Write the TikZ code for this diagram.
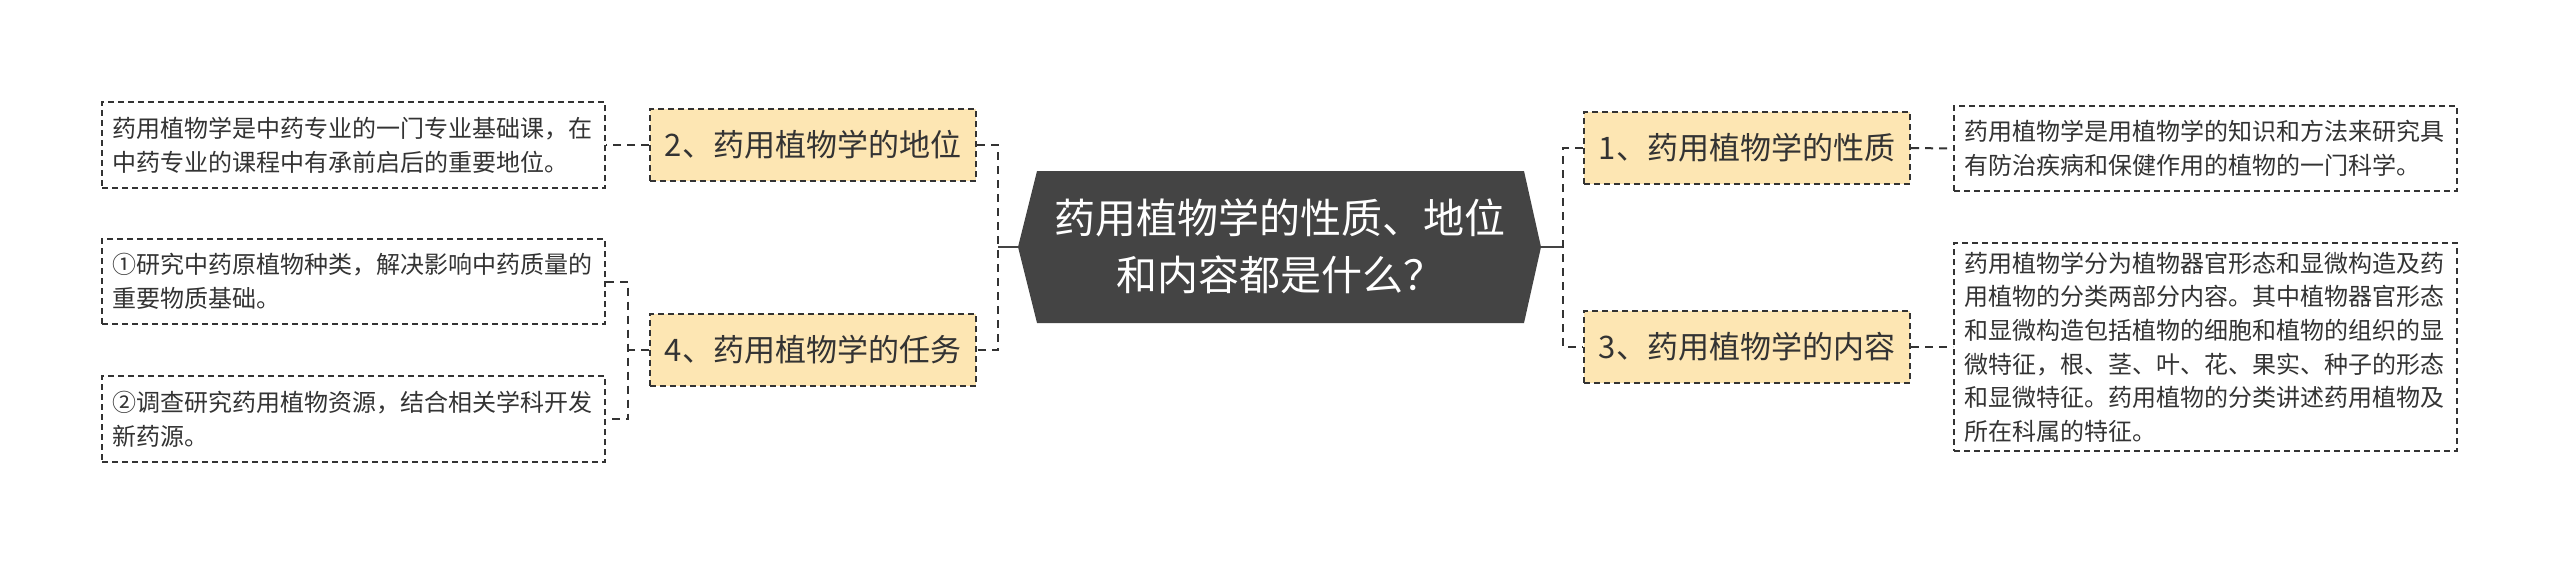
\documentclass[tikz,border=0pt]{standalone}
\usepackage{fontspec}
\setmainfont{Noto Sans CJK SC}
\definecolor{ink}{HTML}{333333}
\definecolor{topicgray}{HTML}{444444}
\definecolor{branchfill}{HTML}{FDE6B3}
\tikzset{
  leaf/.style={draw=ink, line width=1pt, dash pattern=on 3pt off 2pt, text=ink,
    align=left, text width=241pt, inner xsep=5.25pt, inner ysep=0pt,
    font=\fontsize{12pt}{16.8pt}\selectfont},
  branch/.style={draw=ink, line width=1pt, dash pattern=on 3pt off 2pt, fill=branchfill,
    text=ink, minimum width=163pt, minimum height=36pt, inner sep=0pt,
    font=\fontsize{15.5pt}{18pt}\selectfont},
  link/.style={draw=ink, line width=1pt, dash pattern=on 4pt off 3pt},
  stub/.style={draw=topicgray, line width=1.4pt},
}
\begin{document}
\begin{tikzpicture}[x=0.5pt,y=-0.5pt]
\fill[white] (0,0) rectangle (2560,564);
\useasboundingbox (0,0) rectangle (2560,564);

%Topic
\coordinate (tipL) at (1018,247);
\coordinate (tipR) at (1541,247);
\fill[topicgray] (tipL) -- (1037,171) -- (1524,171) -- (tipR) -- (1524,323) -- (1037,323) -- cycle;
\node (topic) at (1280,246) [align=center, text=white, font=\fontsize{20.5pt}{28.5pt}\selectfont]
  {药用植物学的性质、地位\\和内容都是什么？};

%Branches
\node (n2) at (813,145) [branch] {2、药用植物学的地位};
\node (n4) at (813,350) [branch] {4、药用植物学的任务};
\node (n1) at (1747,148) [branch] {1、药用植物学的性质};
\node (n3) at (1747,347) [branch] {3、药用植物学的内容};

%Leaves
\node (l1) at (353.5,145) [leaf, minimum height=43pt]
  {药用植物学是中药专业的一门专业基础课，在\\中药专业的课程中有承前启后的重要地位。};
\node (l2) at (353.5,281.5) [leaf, minimum height=42.5pt]
  {①研究中药原植物种类，解决影响中药质量的\\重要物质基础。};
\node (l3) at (353.5,419) [leaf, minimum height=43pt]
  {②调查研究药用植物资源，结合相关学科开发\\新药源。};
\node (r1) at (2205.5,148.5) [leaf, minimum height=42.5pt]
  {药用植物学是用植物学的知识和方法来研究具\\有防治疾病和保健作用的植物的一门科学。};
\node (r2) at (2205.5,347) [leaf, minimum height=104pt]
  {药用植物学分为植物器官形态和显微构造及药\\用植物的分类两部分内容。其中植物器官形态\\和显微构造包括植物的细胞和植物的组织的显\\微特征，根、茎、叶、花、果实、种子的形态\\和显微特征。药用植物的分类讲述药用植物及\\所在科属的特征。};

%Connectors
\coordinate (lbus) at (998,247);
\coordinate (rbus) at (1563,247);
\coordinate (lsub) at (628,350);
%Left
\draw[stub] (tipL) -- (lbus);
\draw[link] (n2.east) -| (lbus) |- (n4.east);
\draw[link] (n2.west) -- (l1.east);
\draw[link] (n4.west) -- (lsub);
\draw[link] (l2.east) -| (lsub) |- (l3.east);
%Right
\draw[stub] (tipR) -- (rbus);
\draw[link] (n1.west) -| (rbus) |- (n3.west);
\draw[link] (n1.east) -- (r1.west);
\draw[link] (n3.east) -- (r2.west);

\end{tikzpicture}
\end{document}
